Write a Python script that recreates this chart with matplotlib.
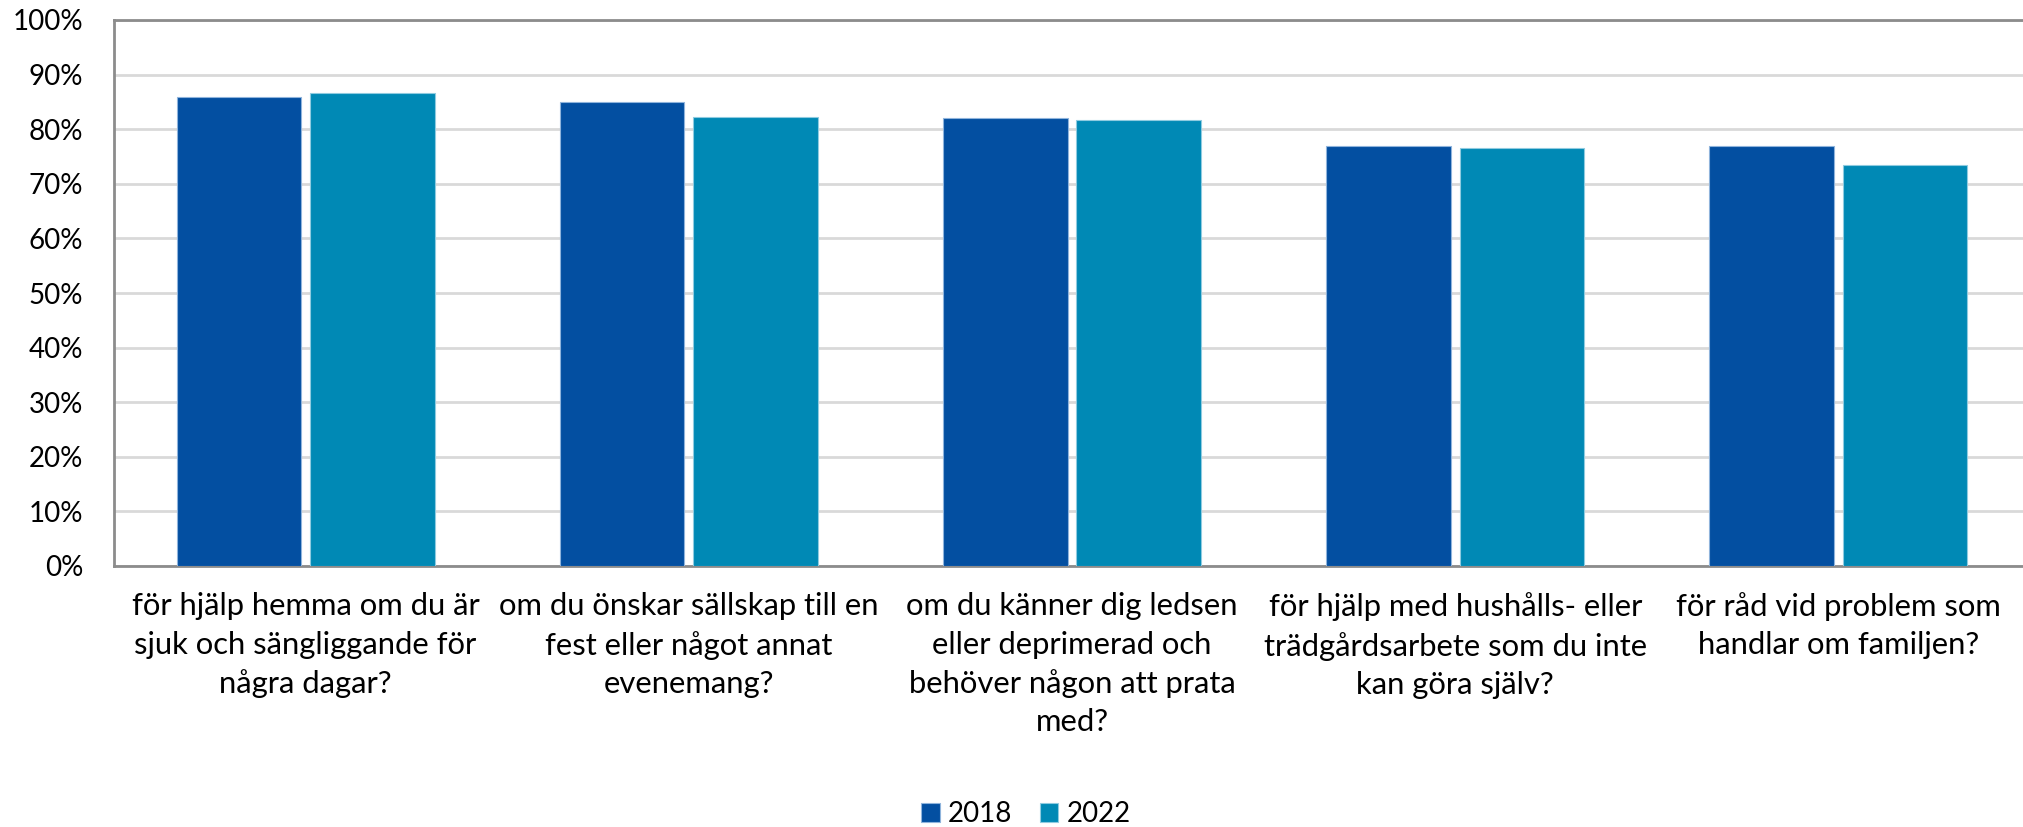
import matplotlib.pyplot as plt
import numpy as np

# data
categories = [
    "för hjälp hemma om du är\nsjuk och sängliggande för\nnågra dagar?",
    "om du önskar sällskap till en\nfest eller något annat\nevenemang?",
    "om du känner dig ledsen\neller deprimerad och\nbehöver någon att prata\nmed?",
    "för hjälp med hushålls- eller\nträdgårdsarbete som du inte\nkan göra själv?",
    "för råd vid problem som\nhandlar om familjen?",
]
years = ["2018", "2022"]
v2018 = [85.9, 84.9, 82.0, 76.9, 76.9]
v2022 = [86.6, 82.2, 81.6, 76.6, 73.4]

plt.rcParams['font.family'] = ['Lato', 'DejaVu Sans']

fig = plt.figure(figsize=(20.24, 8.27), dpi=100)
ax = fig.add_axes([114 / 2024, 261 / 827, 1916 / 2024, 546 / 827])

x = np.arange(len(categories))
w = 0.325
ax.bar(x - 0.174, v2018, w, color='#034FA1', edgecolor='#8FB4DC', linewidth=0.8,
       label=years[0], zorder=3)
ax.bar(x + 0.174, v2022, w, color='#0089B5', edgecolor='#8FCBE0', linewidth=0.8,
       label=years[1], zorder=3)

ax.set_xlim(-0.5, len(categories) - 0.5)
ax.set_ylim(0, 100)
ax.set_yticks(np.arange(0, 101, 10))
ax.set_yticklabels([f"{t}%" for t in range(0, 101, 10)])
ax.set_xticks(x)
ax.set_xticklabels(categories, linespacing=1.44)

ax.tick_params(axis='y', length=0, pad=22, labelsize=20)
ax.tick_params(axis='x', length=0, pad=19, labelsize=22.3)
ax.grid(axis='y', color='#d9d9d9', linewidth=2, zorder=0)

for s in ['left', 'bottom', 'top']:
    ax.spines[s].set_color('#8c8c8c')
    ax.spines[s].set_linewidth(2)
ax.spines['right'].set_visible(False)

fig.legend(loc='center', bbox_to_anchor=(1026 / 2024, 1 - 814 / 827), ncol=2,
           frameon=False, fontsize=20, handlelength=0.65, handleheight=0.65,
           handletextpad=0.3, columnspacing=1.0)

fig.savefig('out.png', dpi=100)
